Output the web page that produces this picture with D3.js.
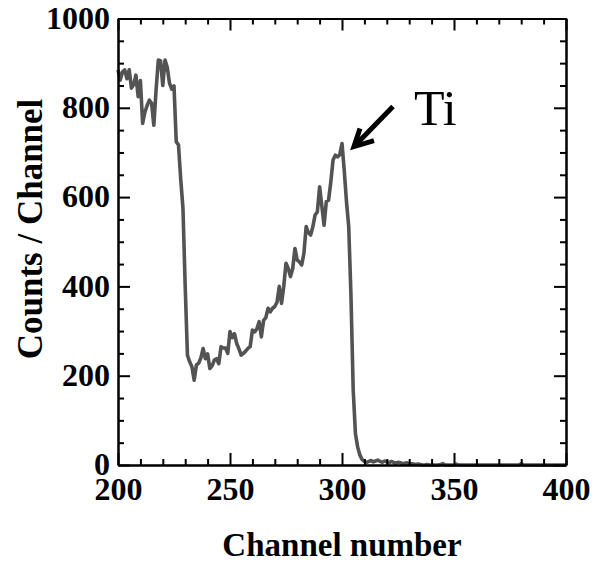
<!DOCTYPE html>
<html>
<head>
<meta charset="utf-8">
<script src="https://cdn.jsdelivr.net/npm/d3@7"></script>
<style>
  html, body { margin: 0; padding: 0; background: #fff; }
  svg { display: block; }
</style>
</head>
<body>
<svg id="chart" width="596" height="562"></svg>
<script>
// ---- Data ----
const startChannel = 200;
const counts = [
  885,862,880,885,865,885,844,852,873,825,
  861,765,790,805,817,810,761,840,907,905,
  850,907,890,855,842,849,724,717,640,575,
  400,246,231,220,190,224,228,240,261,238,
  249,216,222,235,238,227,265,262,262,250,
  299,285,294,272,260,246,250,255,261,265,
  302,298,305,321,287,324,330,351,343,351,
  355,365,400,362,400,452,440,422,440,485,
  459,455,448,474,534,520,515,534,560,567,
  623,580,537,590,593,634,683,694,690,695,
  720,660,590,534,380,168,70,40,22,12,
  8,6,8,10,7,9,11,8,6,9,
  7,5,8,6,4,6,5,3,4,5,
  2,3,2,1,2,1,0,0,1,0,
  0,0,0,0,1,3,0,0,0,0,
  0,2,0,0,0,0,0,0,0,0,
  0,0,0,0,0,0,0,0,0,0,
  0,0,0,0,0,0,0,0,0,0,
  3,0,0,0,0,0,0,0,0,0,
  0,0,0,0,0,0,0,0,0,0,
  0
];
const xMajorTicks = [200, 250, 300, 350, 400];
const xMinorTicks = [210,220,230,240,260,270,280,290,310,320,330,340,360,370,380,390];
const yMajorTicks = [0, 200, 400, 600, 800, 1000];
const yMinorTicks = [50,100,150,250,300,350,450,500,550,650,700,750,850,900,950];
const xTitle = "Channel number";
const yTitle = "Counts / Channel";
const peakLabel = "Ti";
const peakChannel = 300;
const peakCount = 720;

const data = counts.map((v, i) => ({ ch: startChannel + i, v }));

// ---- Layout ----
const svg = d3.select("#chart");
const L = 118, R = 566, T = 18.5, B = 465;
const x = d3.scaleLinear().domain([200, 400]).range([L, R]);
const y = d3.scaleLinear().domain([0, 1000]).range([B, T]);

const font = "'Liberation Serif', 'Times New Roman', serif";

// Data line
const line = d3.line().x(d => x(d.ch)).y(d => y(d.v));
svg.append("path")
  .datum(data)
  .attr("d", line)
  .attr("fill", "none")
  .attr("stroke", "#535353")
  .attr("stroke-width", 3.6)
  .attr("stroke-linejoin", "round");

// Axes
function styleAxis(g) {
  g.selectAll(".domain").attr("stroke", "#000").attr("stroke-width", 2);
  g.selectAll(".tick line").attr("stroke", "#000").attr("stroke-width", 2);
  g.selectAll(".tick text")
    .attr("font-family", font)
    .attr("font-weight", "bold")
    .attr("font-size", "32px")
    .attr("fill", "#000");
}

// Bottom
svg.append("g").attr("transform", `translate(0,${B})`)
  .call(d3.axisBottom(x).tickValues(xMajorTicks).tickSizeInner(-12).tickSizeOuter(0).tickPadding(12).tickFormat(d3.format("d")))
  .call(styleAxis)
  .call(g => g.selectAll(".tick text").attr("dy", "0.71em"));
svg.append("g").attr("transform", `translate(0,${B})`)
  .call(d3.axisBottom(x).tickValues(xMinorTicks).tickSizeInner(-6).tickSizeOuter(0).tickFormat(""))
  .call(styleAxis);
// Top
svg.append("g").attr("transform", `translate(0,${T})`)
  .call(d3.axisTop(x).tickValues(xMajorTicks).tickSizeInner(-12).tickSizeOuter(0).tickFormat(""))
  .call(styleAxis);
svg.append("g").attr("transform", `translate(0,${T})`)
  .call(d3.axisTop(x).tickValues(xMinorTicks).tickSizeInner(-6).tickSizeOuter(0).tickFormat(""))
  .call(styleAxis);
// Left
svg.append("g").attr("transform", `translate(${L},0)`)
  .call(d3.axisLeft(y).tickValues(yMajorTicks).tickSizeInner(-12).tickSizeOuter(0).tickPadding(8).tickFormat(d3.format("d")))
  .call(styleAxis)
  .call(g => g.selectAll(".tick text").attr("dy", "0.3em"));
svg.append("g").attr("transform", `translate(${L},0)`)
  .call(d3.axisLeft(y).tickValues(yMinorTicks).tickSizeInner(-6).tickSizeOuter(0).tickFormat(""))
  .call(styleAxis);
// Right
svg.append("g").attr("transform", `translate(${R},0)`)
  .call(d3.axisRight(y).tickValues(yMajorTicks).tickSizeInner(-12).tickSizeOuter(0).tickFormat(""))
  .call(styleAxis);
svg.append("g").attr("transform", `translate(${R},0)`)
  .call(d3.axisRight(y).tickValues(yMinorTicks).tickSizeInner(-6).tickSizeOuter(0).tickFormat(""))
  .call(styleAxis);

// Axis titles
svg.append("text")
  .attr("x", (L + R) / 2).attr("y", 556)
  .attr("text-anchor", "middle")
  .attr("font-family", font).attr("font-weight", "bold").attr("font-size", "33px")
  .text(xTitle);
svg.append("text")
  .attr("transform", `translate(42,229) rotate(-90)`)
  .attr("text-anchor", "middle")
  .attr("font-family", font).attr("font-weight", "bold").attr("font-size", "35px")
  .text(yTitle);

// Annotation arrow + label
const tipX = x(peakChannel) + 12, tipY = y(peakCount) + 3;
svg.append("line")
  .attr("x1", tipX + 39).attr("y1", tipY - 40).attr("x2", tipX + 2).attr("y2", tipY - 2)
  .attr("stroke", "#000").attr("stroke-width", 5);
svg.append("path")
  .attr("d", `M${tipX + 6},${tipY - 18} L${tipX},${tipY} L${tipX + 20},${tipY - 6}`)
  .attr("fill", "none").attr("stroke", "#000").attr("stroke-width", 5)
  .attr("stroke-linejoin", "miter");
svg.append("text")
  .attr("x", 414).attr("y", 125)
  .attr("font-family", font).attr("font-size", "50px")
  .text(peakLabel);
</script>
</body>
</html>
